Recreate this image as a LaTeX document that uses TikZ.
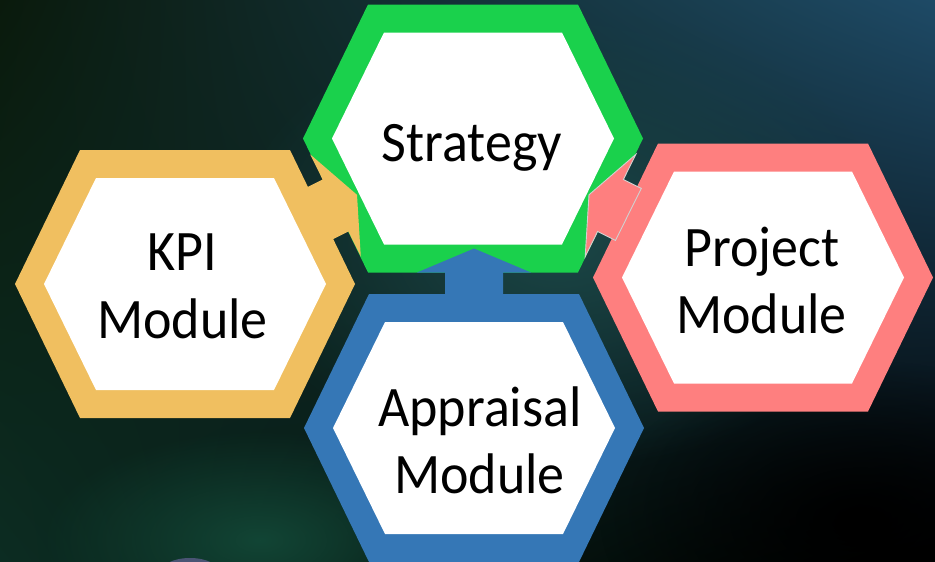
\documentclass[tikz,border=0pt]{standalone}
\usepackage{fontspec}
\setmainfont{Carlito}
\usetikzlibrary{fadings,shadings}
\tikzfading[name=myglow, inner color=transparent!0, outer color=transparent!100]
\definecolor{cGreen}{HTML}{1AD14C}
\definecolor{cOrange}{HTML}{F0BF60}
\definecolor{cPink}{HTML}{FE7F7F}
\definecolor{cBlue}{HTML}{3577B6}
\definecolor{bgUL}{HTML}{0A1A0C}
\definecolor{bgUR}{HTML}{1E4A66}
\definecolor{bgLL}{HTML}{0C2C22}
\definecolor{bgLR}{HTML}{000000}
\definecolor{bgTeal}{HTML}{1B4646}
\definecolor{bgGreen}{HTML}{124535}
\definecolor{globe}{HTML}{4A5474}
\newcommand{\hexOuter}[2]{\fill[#2, shift={(#1)}] (-105,-134) -- (105,-134) -- (170,0) -- (105,134) -- (-105,134) -- (-170,0) -- cycle;}
\newcommand{\hexInner}[1]{\fill[white, shift={(#1)}] (-89,-106) -- (89,-106) -- (141,0) -- (89,106) -- (-89,106) -- (-141,0) -- cycle;}
\begin{document}
\begin{tikzpicture}[x=1pt,y=-1pt,
  lbl/.style={font=\fontsize{54}{66}\selectfont, text=black, inner sep=0pt, anchor=base, yscale=1.06, transform shape},
  pinkarrow/.style={fill=cPink, draw=black!18, line width=0.9pt, line join=miter}]
\useasboundingbox (0,0) rectangle (935,562);
% background
\shade[upper left=bgUL, upper right=bgUR, lower left=bgLL, lower right=bgLR] (0,0) rectangle (935,562);
\fill[bgTeal, path fading=myglow] (560,240) ellipse (330pt and 230pt);
\fill[bgGreen, path fading=myglow] (260,540) ellipse (220pt and 110pt);
\fill[black, path fading=myglow] (860,520) ellipse (260pt and 160pt);
\fill[globe] (190,573) ellipse (30pt and 15pt);
% hexagon centres
\coordinate (S) at (473,138.5);
\coordinate (K) at (185,284);
\coordinate (P) at (763,277.5);
\coordinate (A) at (474,428);
% outer coloured hexagons
\hexOuter{S}{cGreen}
\hexOuter{K}{cOrange}
\hexOuter{P}{cPink}
\hexOuter{A}{cBlue}
% block arrows
\coordinate (kTip) at (357.0,194.8);
\coordinate (pTip) at (589.0,194.8);
\coordinate (aTip) at (474,248.5);
\fill[cOrange] (kTip) -- (360.8,256.6) -- (348.4,231.5) -- (308.1,251.5) -- (282.3,199.5) -- (322.6,179.5) -- (310.2,154.4) -- cycle;
\filldraw[pinkarrow] (pTip) -- (585.2,256.6) -- (597.6,231.5) -- (615.5,240.4) -- (641.3,188.4) -- (623.4,179.5) -- (635.8,154.4) -- cycle;
\fill[cBlue] (aTip) -- (531,272.5) -- (503,272.5) -- (503,312) -- (445,312) -- (445,272.5) -- (417,272.5) -- cycle;
% white inner hexagons
\hexInner{S}
\hexInner{K}
\hexInner{P}
\hexInner{A}
% labels
\node[lbl] (tS) at (472,161.7) {Strategy};
\node[lbl] (tK1) at (182,270) {KPI};
\node[lbl] (tK2) at (182.5,338) {Module};
\node[lbl] (tP1) at (762,266) {Project};
\node[lbl] (tP2) at (761.5,333) {Module};
\node[lbl] (tA1) at (480,426) {Appraisal};
\node[lbl] (tA2) at (479.5,493) {Module};
\end{tikzpicture}
\end{document}
